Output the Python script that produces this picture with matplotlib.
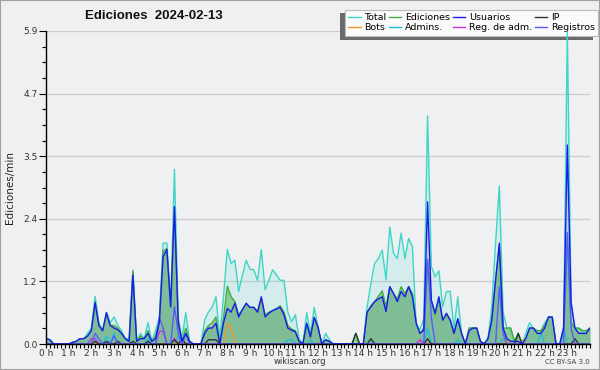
import numpy as np
import matplotlib
matplotlib.use("Agg")
import matplotlib.pyplot as plt
from matplotlib.ticker import MultipleLocator, FixedLocator

# edits per minute, one value every 10 minutes (00:00 -> 24:00)
total = [
    0.10, 0.08, 0.00, 0.00, 0.00, 0.00,   # 0 h
    0.00, 0.03, 0.05, 0.10, 0.10, 0.20,   # 1 h
    0.30, 0.90, 0.40, 0.25, 0.60, 0.40,   # 2 h
    0.51, 0.35, 0.25, 0.10, 0.10, 1.35,   # 3 h
    0.05, 0.20, 0.10, 0.40, 0.05, 0.25,   # 4 h
    0.50, 1.90, 1.90, 0.70, 3.29, 0.50,   # 5 h
    0.10, 0.59, 0.05, 0.00, 0.00, 0.00,   # 6 h
    0.45, 0.60, 0.70, 0.89, 0.10, 0.90,   # 7 h
    1.78, 1.52, 1.58, 0.99, 1.30, 1.58,   # 8 h
    1.41, 1.40, 1.20, 1.78, 1.02, 1.20,   # 9 h
    1.40, 1.30, 1.20, 1.20, 0.60, 0.42,   # 10 h
    0.55, 0.10, 0.00, 0.59, 0.20, 0.69,   # 11 h
    0.32, 0.00, 0.20, 0.08, 0.00, 0.00,   # 12 h
    0.00, 0.00, 0.00, 0.00, 0.20, 0.00,   # 13 h
    0.00, 0.70, 1.14, 1.52, 1.61, 1.77,   # 14 h
    1.21, 2.20, 1.71, 1.61, 2.09, 1.61,   # 15 h
    1.99, 1.83, 0.33, 0.28, 0.47, 4.30,   # 16 h
    1.46, 1.27, 1.38, 0.70, 0.99, 0.99,   # 17 h
    0.28, 0.89, 0.20, 0.00, 0.30, 0.30,   # 18 h
    0.30, 0.05, 0.00, 0.10, 0.70, 1.90,   # 19 h
    2.98, 0.60, 0.30, 0.30, 0.05, 0.20,   # 20 h
    0.00, 0.20, 0.40, 0.30, 0.25, 0.25,   # 21 h
    0.40, 0.50, 0.50, 0.00, 0.00, 0.20,   # 22 h
    5.90, 0.80, 0.30, 0.30, 0.25, 0.25,   # 23 h
    0.30]

ediciones = [
    0.10, 0.08, 0.00, 0.00, 0.00, 0.00,
    0.00, 0.03, 0.05, 0.10, 0.10, 0.15,
    0.25, 0.80, 0.35, 0.25, 0.55, 0.35,
    0.35, 0.30, 0.20, 0.10, 0.05, 1.39,
    0.05, 0.15, 0.10, 0.25, 0.05, 0.15,
    0.45, 1.75, 1.80, 0.70, 2.50, 0.45,
    0.05, 0.30, 0.05, 0.00, 0.00, 0.00,
    0.25, 0.35, 0.40, 0.51, 0.00, 0.50,
    1.09, 0.89, 0.80, 0.55, 0.65, 0.75,
    0.69, 0.69, 0.62, 0.85, 0.55, 0.60,
    0.63, 0.67, 0.72, 0.60, 0.35, 0.28,
    0.25, 0.05, 0.00, 0.39, 0.15, 0.50,
    0.30, 0.00, 0.08, 0.05, 0.00, 0.00,
    0.00, 0.00, 0.00, 0.00, 0.20, 0.00,
    0.00, 0.60, 0.72, 0.80, 0.90, 1.00,
    0.70, 1.08, 0.95, 0.85, 1.08, 0.95,
    1.08, 0.95, 0.40, 0.20, 0.30, 1.58,
    0.80, 0.55, 0.85, 0.45, 0.55, 0.45,
    0.20, 0.45, 0.20, 0.00, 0.30, 0.30,
    0.30, 0.05, 0.00, 0.10, 0.45, 1.20,
    1.85, 0.30, 0.30, 0.30, 0.05, 0.20,
    0.00, 0.10, 0.30, 0.30, 0.25, 0.25,
    0.35, 0.50, 0.50, 0.00, 0.00, 0.20,
    2.00, 0.40, 0.30, 0.30, 0.25, 0.25,
    0.30]

usuarios = [
    0.10, 0.08, 0.00, 0.00, 0.00, 0.00,
    0.00, 0.03, 0.05, 0.10, 0.10, 0.15,
    0.25, 0.78, 0.35, 0.25, 0.59, 0.35,
    0.30, 0.27, 0.20, 0.10, 0.05, 1.30,
    0.05, 0.10, 0.10, 0.20, 0.05, 0.10,
    0.40, 1.65, 1.78, 0.70, 2.59, 0.40,
    0.05, 0.20, 0.05, 0.00, 0.00, 0.00,
    0.20, 0.30, 0.30, 0.39, 0.00, 0.40,
    0.67, 0.60, 0.77, 0.51, 0.65, 0.77,
    0.69, 0.69, 0.60, 0.89, 0.51, 0.58,
    0.63, 0.66, 0.69, 0.55, 0.30, 0.26,
    0.23, 0.05, 0.00, 0.39, 0.13, 0.50,
    0.32, 0.00, 0.08, 0.05, 0.00, 0.00,
    0.00, 0.00, 0.00, 0.00, 0.00, 0.00,
    0.00, 0.60, 0.70, 0.80, 0.85, 0.89,
    0.61, 1.08, 0.95, 0.80, 0.99, 0.89,
    1.08, 0.89, 0.39, 0.20, 0.26, 2.68,
    0.83, 0.58, 0.89, 0.45, 0.58, 0.45,
    0.20, 0.48, 0.20, 0.00, 0.25, 0.30,
    0.30, 0.05, 0.00, 0.10, 0.45, 1.20,
    1.90, 0.30, 0.10, 0.05, 0.05, 0.05,
    0.00, 0.10, 0.30, 0.30, 0.20, 0.20,
    0.30, 0.51, 0.51, 0.00, 0.00, 0.30,
    3.75, 0.77, 0.30, 0.20, 0.20, 0.20,
    0.30]

ip = [
    0, 0, 0, 0, 0, 0,
    0, 0, 0, 0, 0, 0,
    0, 0.05, 0, 0, 0.05, 0,
    0, 0.05, 0, 0, 0, 0.05,
    0, 0, 0, 0.05, 0, 0,
    0, 0, 0, 0, 0.08, 0,
    0.10, 0, 0, 0, 0, 0,
    0, 0.08, 0.08, 0.08, 0, 0,
    0, 0, 0, 0, 0, 0,
    0, 0, 0, 0, 0, 0,
    0, 0, 0, 0, 0, 0,
    0, 0, 0, 0, 0, 0,
    0, 0, 0, 0, 0, 0,
    0, 0, 0, 0, 0.20, 0,
    0, 0, 0.10, 0, 0, 0,
    0, 0, 0, 0, 0, 0,
    0, 0, 0, 0, 0, 0.10,
    0, 0, 0, 0, 0, 0,
    0, 0, 0, 0, 0, 0,
    0, 0, 0, 0, 0, 0,
    0, 0, 0, 0, 0, 0.20,
    0, 0, 0, 0, 0, 0,
    0, 0, 0, 0, 0, 0,
    0, 0, 0.10, 0, 0, 0,
    0]

bots = [
    0, 0, 0, 0, 0, 0,
    0, 0, 0, 0, 0, 0,
    0, 0, 0, 0, 0, 0,
    0, 0, 0, 0, 0, 0,
    0, 0, 0, 0, 0, 0,
    0, 0, 0, 0, 0, 0,
    0, 0, 0, 0, 0, 0,
    0, 0, 0, 0, 0, 0,
    0.39, 0.30, 0, 0, 0, 0,
    0, 0, 0, 0, 0, 0,
    0, 0, 0, 0, 0, 0,
    0, 0, 0, 0, 0, 0,
    0, 0, 0, 0, 0, 0,
    0, 0, 0, 0, 0, 0,
    0, 0, 0, 0, 0, 0,
    0, 0, 0, 0, 0, 0,
    0, 0, 0, 0, 0, 0,
    0, 0, 0, 0, 0, 0,
    0, 0, 0, 0, 0, 0,
    0, 0, 0, 0, 0, 0,
    0, 0, 0.08, 0, 0, 0,
    0.08, 0, 0, 0, 0, 0,
    0, 0, 0, 0, 0, 0,
    0, 0, 0, 0, 0, 0,
    0]

admins = [
    0, 0, 0, 0, 0, 0,
    0, 0, 0, 0, 0, 0,
    0, 0, 0, 0, 0.15, 0,
    0.20, 0, 0, 0, 0, 0,
    0, 0, 0, 0.10, 0, 0,
    0, 0, 0, 0, 0, 0.15,
    0, 0, 0, 0, 0, 0,
    0, 0, 0, 0, 0, 0,
    0, 0, 0, 0, 0, 0,
    0, 0, 0, 0, 0, 0,
    0, 0, 0, 0, 0.08, 0.08,
    0, 0, 0, 0, 0.08, 0,
    0, 0, 0, 0, 0, 0,
    0, 0, 0, 0, 0, 0,
    0, 0, 0.08, 0, 0, 0,
    0, 0, 0, 0, 0, 0,
    0, 0, 0, 0, 0, 0.30,
    0, 0, 0, 0, 0, 0,
    0, 0.08, 0, 0, 0, 0,
    0, 0, 0, 0, 0, 0,
    0, 0.10, 0, 0, 0, 0,
    0, 0, 0, 0, 0, 0.20,
    0, 0, 0, 0, 0, 0.30,
    0, 0, 0, 0, 0, 0,
    0]

reg_adm = [
    0, 0, 0, 0, 0, 0,
    0, 0, 0, 0, 0, 0,
    0.10, 0.10, 0, 0, 0, 0,
    0, 0, 0, 0, 0, 0,
    0, 0, 0, 0, 0, 0,
    0.24, 0.24, 0, 0, 0.11, 0,
    0, 0, 0, 0, 0, 0,
    0, 0, 0, 0, 0, 0,
    0, 0, 0, 0, 0, 0,
    0, 0, 0, 0, 0, 0,
    0, 0, 0, 0, 0, 0,
    0, 0, 0, 0, 0, 0,
    0, 0, 0, 0, 0, 0,
    0, 0, 0, 0, 0, 0,
    0, 0, 0, 0, 0, 0,
    0, 0, 0, 0, 0, 0,
    0, 0, 0, 0.08, 0, 0,
    0, 0, 0, 0, 0, 0,
    0, 0, 0, 0, 0, 0,
    0, 0, 0, 0, 0, 0,
    0, 0, 0, 0, 0, 0,
    0, 0, 0, 0, 0, 0,
    0, 0, 0, 0, 0, 0,
    0, 0, 0, 0, 0, 0,
    0]

registros = [
    0, 0, 0, 0, 0, 0,
    0, 0, 0, 0, 0, 0,
    0, 0.20, 0.10, 0, 0, 0,
    0.15, 0, 0, 0, 0, 0,
    0, 0, 0, 0, 0, 0,
    0.50, 0.30, 0, 0, 0.70, 0.20,
    0, 0.20, 0, 0, 0, 0,
    0, 0, 0, 0, 0, 0,
    0, 0, 0, 0, 0, 0,
    0, 0, 0, 0, 0, 0,
    0, 0, 0, 0, 0, 0,
    0, 0, 0, 0, 0, 0,
    0, 0, 0, 0, 0, 0,
    0, 0, 0, 0, 0, 0,
    0, 0, 0, 0, 0, 0,
    0, 0, 0, 0, 0, 0,
    0, 0, 0, 0, 0, 1.60,
    0.50, 0, 0, 0, 0, 0,
    0, 0, 0, 0, 0, 0,
    0, 0, 0, 0, 0, 0,
    1.08, 0.20, 0, 0, 0, 0,
    0, 0, 0, 0, 0, 0,
    0, 0, 0, 0, 0, 0,
    2.10, 0.30, 0, 0, 0, 0,
    0]

hours = np.arange(len(total)) / 6.0
hour_labels = [f"{h} h" for h in range(24)]

BG_FIG = "#f0f0f0"
BG_AX = "#eef0f2"
W, H = 600, 370

fig = plt.figure(figsize=(6.0, 3.7), dpi=100, facecolor=BG_FIG)
ax = fig.add_axes([46 / W, 1 - 344 / H, 544 / W, 313 / H])
ax.set_facecolor(BG_AX)
fig.patches.append(plt.Rectangle((0, 0), 1, 1, transform=fig.transFigure,
                                 fill=False, ec="#a0a0a0", lw=1.5))

# fills
ax.fill_between(hours, total, color="#40e0d0", alpha=0.15, lw=0, zorder=1)
ax.fill_between(hours, ediciones, color="#4cb84c", alpha=0.55, lw=0, zorder=1.1)
ax.fill_between(hours, usuarios, color="#5a7fa0", alpha=0.22, lw=0, zorder=1.2)

lw = 1.0
l_total, = ax.plot(hours, total, color="#3dd6c6", lw=lw, zorder=3)
l_ed, = ax.plot(hours, ediciones, color="#44aa44", lw=lw, zorder=3)
l_adm, = ax.plot(hours, admins, color="#22bbdd", lw=lw, zorder=3)
l_bots, = ax.plot(hours, bots, color="#ee9922", lw=lw, zorder=3)
l_reg, = ax.plot(hours, reg_adm, color="#cc33dd", lw=lw, zorder=3)
l_ip, = ax.plot(hours, ip, color="#333333", lw=lw, zorder=3)
l_rgs, = ax.plot(hours, registros, color="#5a5aff", lw=lw, zorder=3)
l_usr, = ax.plot(hours, usuarios, color="#1a1aee", lw=lw, zorder=3.2)

ymax = max(total)
ax.set_xlim(0, 24)
ax.set_ylim(0, ymax)
yt = np.linspace(0, ymax, 6)
ax.set_yticks(yt)
ax.set_yticklabels([f"{v:.1f}" for v in yt])
ax.yaxis.set_minor_locator(FixedLocator(np.linspace(0, ymax, 21)))
ax.set_xticks(range(24))
ax.set_xticklabels(hour_labels)
ax.xaxis.set_minor_locator(MultipleLocator(1 / 6))
ax.grid(axis="y", color="#cccccc", lw=0.9, zorder=0)
ax.set_axisbelow(True)

for s in ["top", "right"]:
    ax.spines[s].set_visible(False)
for s in ["left", "bottom"]:
    ax.spines[s].set_color("black")
    ax.spines[s].set_linewidth(1.0)
    ax.spines[s].set_zorder(4)

ax.tick_params(axis="y", which="major", length=5, width=0.8, labelsize=6.5,
               labelcolor="#333333", pad=1)
ax.tick_params(axis="y", which="minor", length=3, width=0.8)
ax.tick_params(axis="x", which="major", length=3, width=0.8, labelsize=6.5,
               labelcolor="#333333", pad=0.5)
ax.tick_params(axis="x", which="minor", length=3, width=0.8)

ax.set_ylabel("Ediciones/min", fontsize=7.5, labelpad=6, color="#222222")

fig.text(154 / W, 1 - 16 / H, "Ediciones  2024-02-13", fontsize=9.5,
         fontweight="bold", family="Liberation Sans",
         ha="center", va="center", color="#111111")
fig.text(300 / W, 1 - 361 / H, "wikiscan.org", fontsize=6,
         ha="center", va="center", color="#333333")
fig.text(590 / W, 1 - 362 / H, "CC BY-SA 3.0", fontsize=5,
         ha="right", va="center", color="#444444")

# legend box (x 345..598, y 10..37) with shadow shifted left/down
lx0, lx1, ly0, ly1 = 345, 598, 10, 37
shadow = plt.Rectangle(((lx0 - 5) / W, 1 - (ly1 + 3) / H), (lx1 - lx0) / W,
                       (ly1 - ly0) / H, transform=fig.transFigure,
                       color="#6a6a6a", lw=0, clip_on=False, zorder=2.4)
ax.add_patch(shadow)

handles = [l_total, l_bots, l_ed, l_adm, l_usr, l_reg, l_ip, l_rgs]
names = ["Total", "Bots", "Ediciones", "Admins.", "Usuarios", "Reg. de adm.",
         "IP", "Registros"]
leg = ax.legend(handles, names, ncol=4, loc="upper left", mode="expand",
                bbox_to_anchor=(lx0 / W, 1 - ly1 / H, (lx1 - lx0) / W,
                                (ly1 - ly0) / H),
                bbox_transform=fig.transFigure, fontsize=6.8,
                frameon=True, fancybox=False, shadow=False,
                handlelength=1.3, handletextpad=0.4, columnspacing=0.5,
                labelspacing=0.1, borderpad=0.35, borderaxespad=0)
leg.get_frame().set_facecolor("#fbfbfb")
leg.get_frame().set_edgecolor("#bbbbbb")
leg.get_frame().set_linewidth(0.8)
leg.get_frame().set_alpha(1)
leg.set_zorder(2.5)

fig.savefig("out.png", dpi=100, facecolor=BG_FIG)
